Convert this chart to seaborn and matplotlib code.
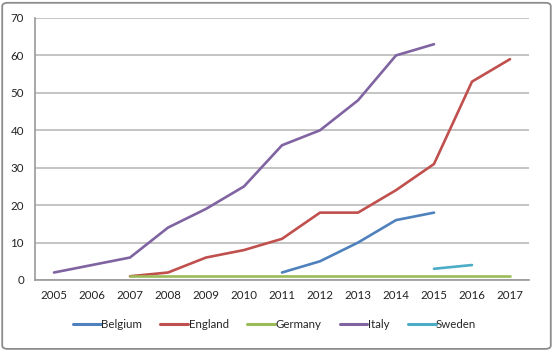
import matplotlib
matplotlib.use('Agg')
import matplotlib.pyplot as plt
from matplotlib.patches import FancyBboxPatch
import numpy as np
import pandas as pd
import seaborn as sns

years = [2005, 2006, 2007, 2008, 2009, 2010, 2011, 2012, 2013, 2014, 2015, 2016, 2017]

belgium_years = [2011, 2012, 2013, 2014, 2015]
belgium = [2, 5, 10, 16, 18]
england_years = [2007, 2008, 2009, 2010, 2011, 2012, 2013, 2014, 2015, 2016, 2017]
england = [1, 2, 6, 8, 11, 18, 18, 24, 31, 53, 59]
germany_years = [2007, 2008, 2009, 2010, 2011, 2012, 2013, 2014, 2015, 2016, 2017]
germany = [1, 1, 1, 1, 1, 1, 1, 1, 1, 1, 1]
italy_years = [2005, 2006, 2007, 2008, 2009, 2010, 2011, 2012, 2013, 2014, 2015]
italy = [2, 4, 6, 14, 19, 25, 36, 40, 48, 60, 63]
sweden_years = [2015, 2016]
sweden = [3, 4]

countries = ['Belgium', 'England', 'Germany', 'Italy', 'Sweden']
colors = ['#4F81BD', '#C0504D', '#9BBB59', '#8064A2', '#4BACC6']

rows = []
for name, yrs, vals in [('Belgium', belgium_years, belgium),
                        ('England', england_years, england),
                        ('Germany', germany_years, germany),
                        ('Italy', italy_years, italy),
                        ('Sweden', sweden_years, sweden)]:
    for y, v in zip(yrs, vals):
        rows.append({'country': name, 'pos': years.index(y), 'value': v})
df = pd.DataFrame(rows)

sns.set_style('white')
plt.rcParams['font.family'] = ['Lato', 'DejaVu Sans']

fig = plt.figure(figsize=(5.53, 3.51), dpi=100)
ax = fig.add_axes([35 / 553, 1 - 280 / 351, 494 / 553, 262 / 351])

sns.lineplot(data=df, x='pos', y='value', hue='country', hue_order=countries,
             palette=colors, linewidth=1.9, ax=ax, legend=True)

grid_c = '#C4C4C4'
ax.set_xlim(-0.5, len(years) - 0.5)
ax.set_ylim(0, 70)
ax.set_yticks(range(0, 71, 10))
ax.yaxis.grid(True, color=grid_c, linewidth=1.4)
ax.set_axisbelow(True)
ax.set_xticks(range(len(years)))
ax.set_xticklabels([str(y) for y in years])
ax.set_xticks(np.arange(-0.5, len(years), 1), minor=True)
ax.tick_params(axis='x', which='major', length=0, pad=7, labelsize=8.3, colors='#222222')
ax.tick_params(axis='x', which='minor', length=4, width=1.2, color='#999999', direction='out')
ax.tick_params(axis='y', length=4, width=1.2, color='#999999', direction='out', pad=4,
               labelsize=8.3, labelcolor='#222222')
ax.set_xlabel('')
ax.set_ylabel('')
for s in ['top', 'right']:
    ax.spines[s].set_visible(False)
for s in ['left', 'bottom']:
    ax.spines[s].set_color('#999999')
    ax.spines[s].set_linewidth(1.2)

leg = ax.legend(loc='center', bbox_to_anchor=(0.485, -0.17), ncol=5, frameon=False,
                fontsize=8.3, handlelength=2.4, handletextpad=0.05, columnspacing=1.6)
for h in leg.get_lines():
    h.set_linewidth(2.2)

border = FancyBboxPatch((0.004, 0.006), 0.992, 0.986, boxstyle='round,pad=0,rounding_size=0.01',
                        transform=fig.transFigure, facecolor='none', edgecolor='#8C8C8C',
                        linewidth=1.3)
fig.patches.append(border)

fig.savefig('out.png', dpi=100)
